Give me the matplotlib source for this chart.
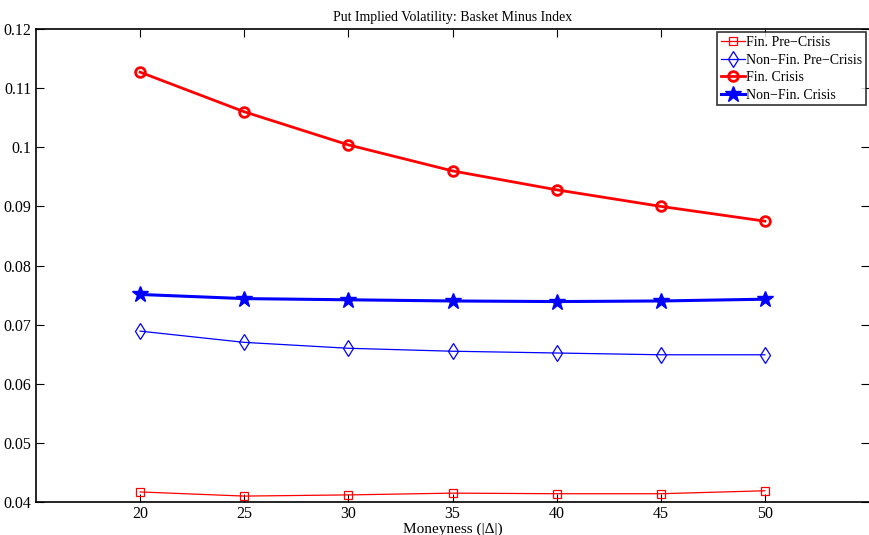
import matplotlib
matplotlib.use("Agg")
import matplotlib.pyplot as plt

plt.rcParams["font.family"] = ["Liberation Serif", "DejaVu Serif"]

moneyness = [20, 25, 30, 35, 40, 45, 50]
fin_pre = [0.0417, 0.0410, 0.0412, 0.0415, 0.0414, 0.0414, 0.0419]
nonfin_pre = [0.0689, 0.0670, 0.0660, 0.0655, 0.0652, 0.0649, 0.0649]
fin_crisis = [0.1127, 0.1060, 0.1004, 0.0960, 0.0928, 0.0900, 0.0875]
nonfin_crisis = [0.0751, 0.0744, 0.0742, 0.0740, 0.0739, 0.0740, 0.0743]
yticks = [0.04, 0.05, 0.06, 0.07, 0.08, 0.09, 0.1, 0.11, 0.12]
ytick_labels = ["0.04", "0.05", "0.06", "0.07", "0.08", "0.09", "0.1", "0.11", "0.12"]

fig = plt.figure(figsize=(8.69, 5.35), dpi=100)
ax = fig.add_axes([36 / 869, 1 - 502 / 535, 833 / 869, 473 / 535])

ax.plot(moneyness, fin_pre, color="red", lw=0.9, marker="s", ms=6,
        mfc="none", mec="red", mew=0.9, label="Fin. Pre\u2212Crisis")
ax.plot(moneyness, nonfin_pre, color="blue", lw=0.9, marker="d", ms=8,
        mfc="none", mec="blue", mew=0.9, label="Non\u2212Fin. Pre\u2212Crisis")
ax.plot(moneyness, fin_crisis, color="red", lw=2, marker="o", ms=7,
        mfc="none", mec="red", mew=2, label="Fin. Crisis")
ax.plot(moneyness, nonfin_crisis, color="blue", lw=2.2, marker="*", ms=12,
        mfc="blue", mec="blue", label="Non\u2212Fin. Crisis")

ax.set_xlim(15, 55)
ax.set_ylim(0.04, 0.12)
ax.set_xticks(moneyness)
ax.set_yticks(yticks)
ax.set_yticklabels(ytick_labels)
ax.tick_params(direction="in", top=True, right=True, labelsize=11.5, length=6, width=0.8)
ax.tick_params(axis="x", pad=3)
for s in ax.spines.values():
    s.set_linewidth(1.2)
ax.spines["right"].set_visible(False)

ax.set_title("Put Implied Volatility: Basket Minus Index", fontsize=10, pad=6)
ax.set_xlabel("Moneyness (|\u0394|)", fontsize=11, labelpad=0)

leg = ax.legend(loc="upper right", fontsize=10, frameon=True, fancybox=False,
                edgecolor="black", handlelength=1.7, handletextpad=0.1,
                labelspacing=0.33, borderpad=0.25, borderaxespad=0.25)
leg.get_frame().set_linewidth(1.2)

fig.savefig("out.png", dpi=100)
